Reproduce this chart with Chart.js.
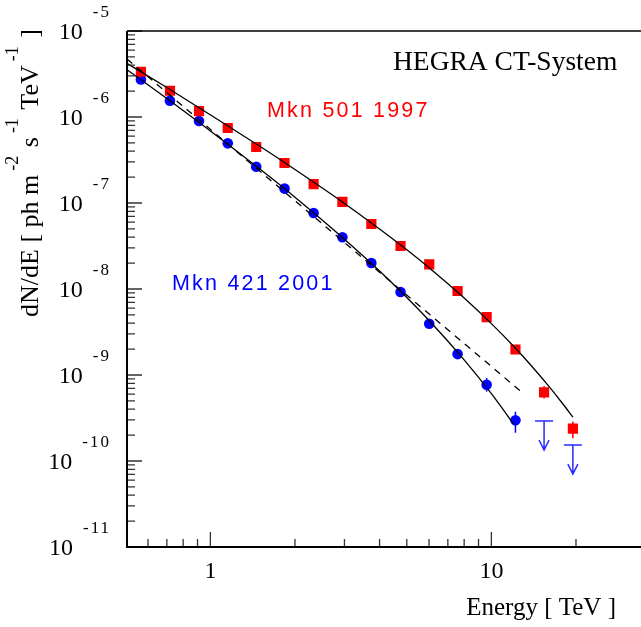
<!DOCTYPE html>
<html>
<head>
<meta charset="utf-8">
<script src="https://cdn.jsdelivr.net/npm/chart.js@4/dist/chart.umd.min.js"></script>
<style>
  html, body { margin:0; padding:0; background:#fff; overflow:hidden; }
  #wrap { width:641px; height:627px; overflow:hidden; }
</style>
</head>
<body>
<div id="wrap"><canvas id="spec" width="649" height="627"></canvas></div>
<script>
// ── DATA ────────────────────────────────────────────────────────
const energy      = [0.566,0.718,0.911,1.153,1.456,1.836,2.33,2.95,3.74,4.75,6.01,7.58,9.62,12.18,15.4,19.5];
const mkn501Flux  = [3.36e-6,2.02e-6,1.17e-6,7.45e-7,4.48e-7,2.92e-7,1.66e-7,1.03e-7,5.70e-8,3.16e-8,1.93e-8,9.48e-9,4.72e-9,1.98e-9,6.29e-10,2.38e-10];
const mkn501ErrLo = [null,null,null,null,null,null,null,null,null,null,null,null,null,null,5.33e-10,1.84e-10];
const mkn501ErrHi = [null,null,null,null,null,null,null,null,null,null,null,null,null,null,7.45e-10,2.87e-10];
const mkn421Flux  = [2.73e-6,1.55e-6,8.98e-7,4.94e-7,2.64e-7,1.47e-7,7.65e-8,3.99e-8,2.01e-8,9.23e-9,3.95e-9,1.75e-9,7.71e-10,2.97e-10];
const mkn421ErrLo = [null,null,null,null,null,null,null,null,null,null,null,null,6.40e-10,2.13e-10];
const mkn421ErrHi = [null,null,null,null,null,null,null,null,null,null,null,null,9.23e-10,3.74e-10];
const mkn421UlE   = [15.4, 19.5];
const mkn421UlF   = [2.92e-10, 1.53e-10];

// fitted curves
const fit501E = [0.505,0.7,1,1.5,2,3,4,5,6,8,10,12,14,16,18,19.5];
const fit501F = [4.20e-6,2.20e-6,1.06e-6,4.56e-7,2.45e-7,9.89e-8,4.99e-8,2.86e-8,1.77e-8,7.86e-9,3.96e-9,2.16e-9,1.24e-9,7.41e-10,4.57e-10,3.24e-10];
const fit421E = [0.505,0.7,1,1.5,2,3,4,5,6,8,10,12];
const fit421F = [3.55e-6,1.64e-6,6.88e-7,2.48e-7,1.17e-7,3.80e-8,1.62e-8,7.98e-9,4.31e-9,1.50e-9,6.07e-10,2.69e-10];
const plE     = [0.505, 12.9];
const plF     = [4.72e-6, 6.22e-10];

const yExps    = [-11,-10,-9,-8,-7,-6,-5];
const xLabels  = [1, 10];
const xMinor   = [0.6,0.7,0.8,0.9,2,3,4,5,6,7,8,9,20];

const RED = '#ff0000', BLUE = '#0000ff', ULBLUE = '#2a2aff';
const SERIF = '"Liberation Serif","Times New Roman",serif';
const SANS  = '"Liberation Sans",Arial,sans-serif';

const pts = (xs, ys) => xs.map((v, i) => ({ x: v, y: ys[i] }));

// ── DECORATION (ticks, labels, error bars, limits) ──────────────
const decor = {
  id: 'decor',
  afterDraw(chart) {
    const { ctx, chartArea: a, scales: { x, y } } = chart;
    ctx.save();

    // error bars
    const errs = (xs, lo, hi, col) => {
      ctx.strokeStyle = col; ctx.lineWidth = 1.5;
      xs.forEach((e, i) => {
        if (lo[i] == null) return;
        const px = x.getPixelForValue(e);
        ctx.beginPath();
        ctx.moveTo(px, y.getPixelForValue(lo[i]));
        ctx.lineTo(px, y.getPixelForValue(hi[i]));
        ctx.stroke();
      });
    };
    errs(energy, mkn501ErrLo, mkn501ErrHi, RED);
    errs(energy, mkn421ErrLo, mkn421ErrHi, BLUE);

    // upper limits
    ctx.strokeStyle = ULBLUE; ctx.lineWidth = 1.5;
    mkn421UlE.forEach((e, i) => {
      const px = x.getPixelForValue(e), py = y.getPixelForValue(mkn421UlF[i]);
      ctx.beginPath();
      ctx.moveTo(px - 9, py); ctx.lineTo(px + 9, py);
      ctx.moveTo(px, py); ctx.lineTo(px, py + 29);
      ctx.moveTo(px - 5, py + 19); ctx.lineTo(px, py + 29); ctx.lineTo(px + 5, py + 19);
      ctx.stroke();
    });

    // ticks (inside)
    ctx.strokeStyle = '#333'; ctx.lineWidth = 1.3;
    ctx.beginPath();
    yExps.forEach((p, k) => {
      const py = y.getPixelForValue(Math.pow(10, p));
      ctx.moveTo(a.left, py); ctx.lineTo(a.left + 15, py);
      if (k < yExps.length - 1) {
        for (let m = 2; m <= 9; m++) {
          const q = y.getPixelForValue(m * Math.pow(10, p));
          ctx.moveTo(a.left, q); ctx.lineTo(a.left + 8, q);
        }
      }
    });
    xLabels.forEach(v => {
      const px = x.getPixelForValue(v);
      ctx.moveTo(px, a.bottom); ctx.lineTo(px, a.bottom - 15);
    });
    xMinor.forEach(v => {
      const px = x.getPixelForValue(v);
      ctx.moveTo(px, a.bottom); ctx.lineTo(px, a.bottom - 8);
    });
    ctx.stroke();

    // frame
    ctx.strokeStyle = '#000'; ctx.lineWidth = 2;
    ctx.beginPath();
    ctx.moveTo(a.left, a.top); ctx.lineTo(a.left, a.bottom); ctx.lineTo(a.right, a.bottom);
    ctx.stroke();
    ctx.lineWidth = 1.5;
    ctx.beginPath(); ctx.moveTo(a.left, a.top); ctx.lineTo(a.right, a.top); ctx.stroke();

    // y tick labels 10^n
    ctx.fillStyle = '#000';
    ctx.textBaseline = 'middle';
    ctx.textAlign = 'right';
    yExps.forEach(p => {
      const py = y.getPixelForValue(Math.pow(10, p));
      ctx.font = '17px ' + SERIF;
      ctx.letterSpacing = '2px';
      const ex = String(p);
      ctx.fillText(ex, 111, py - 18);
      const exLeft = 111 - ctx.measureText(ex).width;
      ctx.letterSpacing = '0px';
      ctx.font = '24px ' + SERIF;
      ctx.fillText('10', exLeft - 10, py + 1.5);
    });

    // x tick labels
    ctx.textAlign = 'center';
    ctx.font = '24px ' + SERIF;
    xLabels.forEach(v => ctx.fillText(String(v), x.getPixelForValue(v), 572));

    // x title
    ctx.textAlign = 'right'; ctx.textBaseline = 'alphabetic';
    ctx.font = '25px ' + SERIF;
    ctx.fillText('Energy [ TeV ]', 616, 615);

    // y title (rotated, with superscripts)
    ctx.save();
    ctx.translate(38, 317);
    ctx.rotate(-Math.PI / 2);
    ctx.textAlign = 'left';
    const parts = [
      ['dN/dE [ ph m', false], ['-2', true], [' s', false], ['-1', true],
      [' TeV', false], ['-1', true], [' ]', false]
    ];
    let cx = 0;
    parts.forEach(([t, sup]) => {
      ctx.font = (sup ? '18px ' : '26px ') + SERIF;
      if (sup) cx += 4;
      ctx.fillText(t, cx, sup ? -20 : 0);
      cx += ctx.measureText(t).width + (sup ? 2 : 0);
    });
    ctx.restore();

    // in-plot labels
    ctx.textAlign = 'left';
    ctx.font = '27.5px ' + SERIF;
    ctx.fillStyle = '#000';
    ctx.fillText('HEGRA CT-System', 393, 70);
    ctx.font = '21.5px ' + SANS;
    ctx.letterSpacing = '2.2px';
    ctx.fillStyle = RED;
    ctx.fillText('Mkn 501 1997', 267, 117);
    ctx.fillStyle = BLUE;
    ctx.fillText('Mkn 421 2001', 172, 290);
    ctx.restore();
  }
};

// ── CHART ───────────────────────────────────────────────────────
const curve = (data, dash) => ({
  type: 'line', data, borderColor: '#000', borderWidth: 1.3, borderDash: dash || [],
  pointRadius: 0, cubicInterpolationMode: 'monotone', fill: false, order: 1
});

new Chart(document.getElementById('spec'), {
  type: 'scatter',
  data: {
    datasets: [
      curve(pts(fit501E, fit501F)),
      curve(pts(fit421E, fit421F)),
      curve(pts(plE, plF), [7, 6]),
      { label: 'Mkn 501 1997', data: pts(energy, mkn501Flux), pointStyle: 'rect', pointRadius: 7.2,
        backgroundColor: RED, borderWidth: 0, order: 2 },
      { label: 'Mkn 421 2001', data: pts(energy.slice(0, mkn421Flux.length), mkn421Flux), pointStyle: 'circle',
        pointRadius: 5.3, backgroundColor: BLUE, borderWidth: 0, order: 2 }
    ]
  },
  options: {
    responsive: false, animation: false, devicePixelRatio: 1,
    layout: { padding: { left: 127, top: 31, right: 0, bottom: 80 } },
    plugins: { legend: { display: false }, tooltip: { enabled: false } },
    scales: {
      x: { type: 'logarithmic', min: 0.505, max: 34.3,
           ticks: { display: false }, grid: { display: false }, border: { display: false },
           afterFit: s => { s.height = 0; s.paddingLeft = 0; s.paddingRight = 0; } },
      y: { type: 'logarithmic', min: 1e-11, max: 1e-5,
           ticks: { display: false }, grid: { display: false }, border: { display: false },
           afterFit: s => { s.width = 0; s.paddingTop = 0; s.paddingBottom = 0; } }
    }
  },
  plugins: [decor]
});
</script>
</body>
</html>
